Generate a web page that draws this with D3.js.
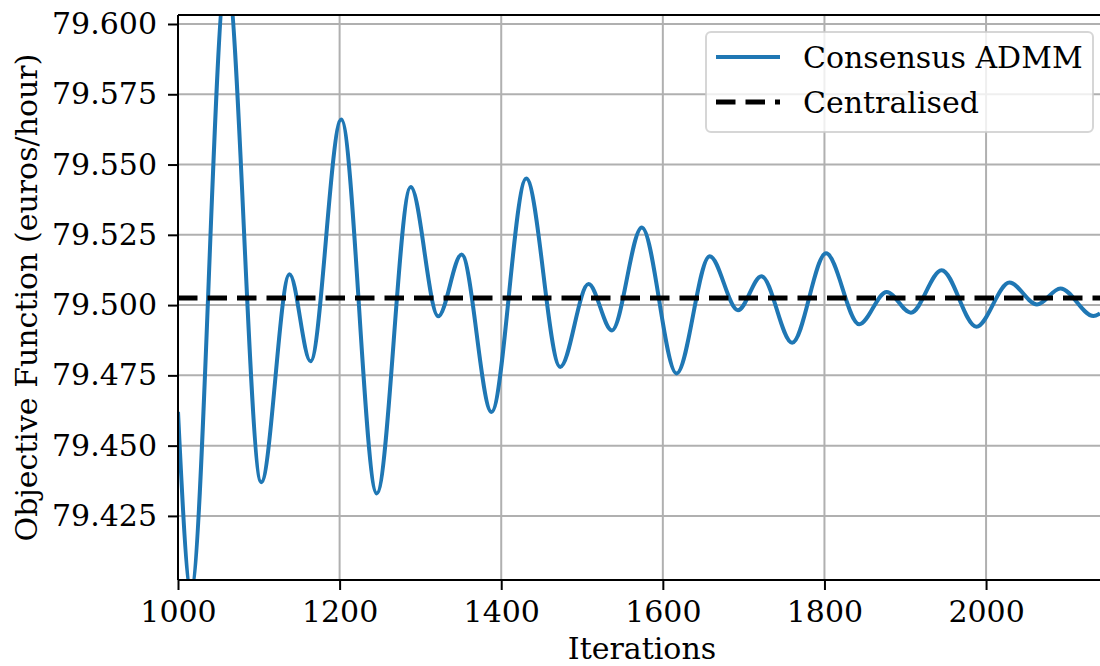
<!DOCTYPE html>
<html lang="en">
<head>
<meta charset="UTF-8">
<title>Consensus ADMM vs Centralised</title>
<style>
* { margin: 0; padding: 0; box-sizing: border-box; }
body { background: #fff; overflow: hidden; }
svg { display: block; font-family: "DejaVu Serif", serif; }
.tick text { font-size: 30px; fill: #000; font-family: "DejaVu Serif", serif; }
.tick line { stroke: #000; stroke-width: 2; }
.grid line { stroke: #b0b0b0; stroke-width: 2; }
</style>
</head>
<body>
<div id="chart"></div>
<script src="https://d3js.org/d3.v7.min.js"></script>
<script>
// Consensus ADMM objective (turning points)
var iterations = [1000, 1016, 1060, 1103, 1138, 1164, 1202, 1246, 1288, 1322,
	1351, 1388, 1431, 1473, 1508, 1537, 1574, 1617, 1658, 1693,
	1722, 1760, 1802, 1843, 1877, 1907, 1945, 1988, 2029, 2063,
	2092, 2133, 2141];
var admmValues = [79.462, 79.399, 79.618, 79.437, 79.511, 79.480, 79.566, 79.433, 79.542, 79.496,
	79.518, 79.462, 79.545, 79.478, 79.5075, 79.491, 79.5276, 79.4757, 79.5174, 79.4982,
	79.5103, 79.4866, 79.5184, 79.4932, 79.5047, 79.4973, 79.5124, 79.4923, 79.508, 79.5002,
	79.5059, 79.4961, 79.497];
var centralisedValue = 79.5025;

var xTicks = [1000, 1200, 1400, 1600, 1800, 2000];
var yTicks = [79.425, 79.450, 79.475, 79.500, 79.525, 79.550, 79.575, 79.600];
var seriesNames = ["Consensus ADMM", "Centralised"];

(function() {
	var width = 1100, height = 666;
	var margin = { top: 15, right: 0, bottom: 86, left: 178 };
	var plotW = width - margin.left - margin.right;
	var plotH = height - margin.top - margin.bottom;
	var blue = "#1f77b4";
	var fontSize = 30;

	var svg = d3.select("#chart").append("svg")
		.attr("width", width)
		.attr("height", height);

	svg.append("defs").append("clipPath")
		.attr("id", "plot-clip")
		.append("rect")
		.attr("width", plotW)
		.attr("height", plotH);

	var g = svg.append("g")
		.attr("transform", "translate(" + margin.left + "," + margin.top + ")");

	var x = d3.scaleLinear().domain([1000, 2141]).range([0, plotW]);
	var y = d3.scaleLinear().domain([79.4022, 79.6032]).range([plotH, 0]);

	// grid
	g.append("g").attr("class", "grid")
		.selectAll("line").data(xTicks).join("line")
		.attr("x1", function(d) { return x(d); })
		.attr("x2", function(d) { return x(d); })
		.attr("y1", 0).attr("y2", plotH);
	g.append("g").attr("class", "grid")
		.selectAll("line").data(yTicks).join("line")
		.attr("y1", function(d) { return y(d); })
		.attr("y2", function(d) { return y(d); })
		.attr("x1", 0).attr("x2", plotW);

	var plot = g.append("g").attr("clip-path", "url(#plot-clip)");

	var line = d3.line()
		.x(function(d, i) { return x(iterations[i]); })
		.y(function(d) { return y(d); })
		.curve(d3.curveMonotoneX);

	plot.append("path")
		.datum(admmValues)
		.attr("fill", "none")
		.attr("stroke", blue)
		.attr("stroke-width", 4)
		.attr("stroke-linejoin", "round")
		.attr("d", line);

	plot.append("line")
		.attr("x1", 0).attr("x2", plotW)
		.attr("y1", y(centralisedValue)).attr("y2", y(centralisedValue))
		.attr("stroke", "#000")
		.attr("stroke-width", 5)
		.attr("stroke-dasharray", "19.5,10");

	// axes
	var xAxis = g.append("g")
		.attr("transform", "translate(0," + plotH + ")")
		.call(d3.axisBottom(x).tickValues(xTicks).tickFormat(d3.format("d"))
			.tickSize(10).tickSizeOuter(0).tickPadding(11));
	xAxis.select(".domain").remove();

	var yAxis = g.append("g")
		.call(d3.axisLeft(y).tickValues(yTicks).tickFormat(d3.format(".3f"))
			.tickSize(10).tickSizeOuter(0).tickPadding(11));
	yAxis.select(".domain").remove();

	// spines (right one falls outside the window)
	var spine = g.append("g").attr("stroke", "#000").attr("stroke-width", 2);
	spine.append("line").attr("x1", 0).attr("x2", 0).attr("y1", 0).attr("y2", plotH);
	spine.append("line").attr("x1", 0).attr("x2", plotW).attr("y1", plotH).attr("y2", plotH);
	spine.append("line").attr("x1", 0).attr("x2", plotW).attr("y1", 0).attr("y2", 0);

	// axis labels
	svg.append("text")
		.attr("x", 642)
		.attr("y", 659)
		.attr("text-anchor", "middle")
		.attr("font-size", fontSize)
		.text("Iterations");
	svg.append("text")
		.attr("transform", "translate(37," + (margin.top + plotH / 2) + ") rotate(-90)")
		.attr("text-anchor", "middle")
		.attr("font-size", fontSize)
		.text("Objective Function (euros/hour)");

	// legend
	var lg = svg.append("g").attr("transform", "translate(706,32)");
	lg.append("rect")
		.attr("width", 387).attr("height", 100)
		.attr("rx", 5)
		.attr("fill", "#fff").attr("fill-opacity", 0.8)
		.attr("stroke", "#cccccc").attr("stroke-opacity", 0.8)
		.attr("stroke-width", 2);
	lg.append("line")
		.attr("x1", 10).attr("x2", 74).attr("y1", 25).attr("y2", 25)
		.attr("stroke", blue).attr("stroke-width", 4);
	lg.append("line")
		.attr("x1", 10).attr("x2", 74).attr("y1", 70).attr("y2", 70)
		.attr("stroke", "#000").attr("stroke-width", 5)
		.attr("stroke-dasharray", "19.5,10");
	lg.selectAll("text.leg").data(seriesNames).join("text")
		.attr("class", "leg")
		.attr("x", 97)
		.attr("y", function(d, i) { return 36 + i * 45; })
		.attr("font-size", fontSize)
		.text(function(d) { return d; });
})();
</script>
</body>
</html>
